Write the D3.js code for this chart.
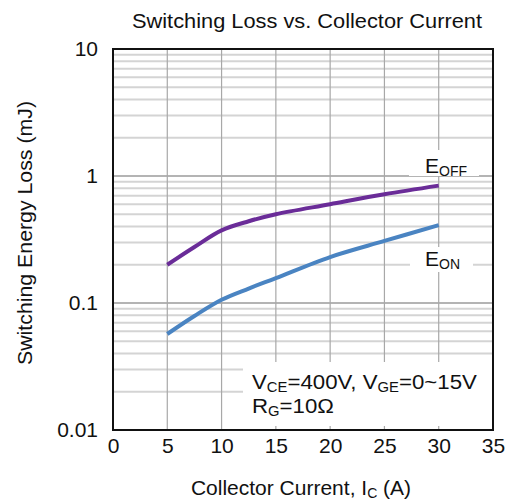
<!DOCTYPE html>
<html>
<head>
<meta charset="utf-8">
<script src="https://cdn.jsdelivr.net/npm/d3@7/dist/d3.min.js"></script>
<style>
  html, body { margin: 0; padding: 0; background: #fff; }
  svg { display: block; font-family: "Liberation Sans", Arial, Helvetica, sans-serif; }
</style>
</head>
<body>
<svg id="chart" width="516" height="504"></svg>
<script>
// Collector current samples (A)
const currents = [5, 7.5, 10, 12.5, 15, 20, 25, 30];
// Turn-off and turn-on switching energy (mJ)
const eOff = [0.20, 0.276, 0.373, 0.44, 0.50, 0.60, 0.718, 0.84];
const eOn  = [0.057, 0.079, 0.106, 0.13, 0.157, 0.23, 0.308, 0.41];
// Axis ticks
const xTicks = [0, 5, 10, 15, 20, 25, 30, 35];
const yTicks = [0.01, 0.1, 1, 10];
const yTickLabels = ["0.01", "0.1", "1", "10"];

const svg = d3.select("#chart");
const plotL = 113, plotR = 493, plotT = 49, plotB = 430;

const x = d3.scaleLinear().domain([0, 35]).range([plotL, plotR]);
const y = d3.scaleLog().domain([0.01, 10]).range([plotB, plotT]);

// Horizontal grid: minor values 2..9 per decade, decades darker
const minor = [];
[0.01, 0.1, 1].forEach(d => { for (let k = 2; k <= 9; k++) minor.push(d * k); });
svg.append("g").selectAll("line").data(minor).join("line")
  .attr("x1", plotL).attr("x2", plotR)
  .attr("y1", d => y(d)).attr("y2", d => y(d))
  .attr("stroke", "#d4d4d4").attr("stroke-width", 2);
svg.append("g").selectAll("line").data([0.1, 1]).join("line")
  .attr("x1", plotL).attr("x2", plotR)
  .attr("y1", d => y(d)).attr("y2", d => y(d))
  .attr("stroke", "#b4b4b4").attr("stroke-width", 2);

// Vertical grid
svg.append("g").selectAll("line").data(xTicks.slice(1, -1)).join("line")
  .attr("x1", d => x(d)).attr("x2", d => x(d))
  .attr("y1", plotT).attr("y2", plotB)
  .attr("stroke", "#a8a8a8").attr("stroke-width", 1.2);

// Condition note panel (white, covers the grid) leaving tick stubs at the bottom
svg.append("rect").attr("x", 243).attr("y", 362).attr("width", plotR - 243 - 1).attr("height", plotB - 362 - 4)
  .attr("fill", "#fff");

const noteScale = (x0) => `translate(${x0},0) scale(1.06,1) translate(${-x0},0)`;
const note = svg.append("text").attr("x", 252).attr("y", 389).attr("font-size", 21).attr("fill", "#111")
  .attr("transform", noteScale(252));
note.append("tspan").text("V");
note.append("tspan").attr("font-size", 14).attr("dy", 3).text("CE");
note.append("tspan").attr("dy", -3).text("=400V, V");
note.append("tspan").attr("font-size", 14).attr("dy", 3).text("GE");
note.append("tspan").attr("dy", -3).text("=0~15V");
const note2 = svg.append("text").attr("x", 252).attr("y", 413).attr("font-size", 21).attr("fill", "#111")
  .attr("transform", noteScale(252));
note2.append("tspan").text("R");
note2.append("tspan").attr("font-size", 14).attr("dy", 3).text("G");
note2.append("tspan").attr("dy", -3).text("=10\u03A9");

// Curves
const line = d3.line().x(d => x(d[0])).y(d => y(d[1])).curve(d3.curveCatmullRom.alpha(0.5));
svg.append("path").datum(currents.map((c, i) => [c, eOff[i]]))
  .attr("d", line).attr("fill", "none").attr("stroke", "#6a2c98").attr("stroke-width", 4);
svg.append("path").datum(currents.map((c, i) => [c, eOn[i]]))
  .attr("d", line).attr("fill", "none").attr("stroke", "#4a84c2").attr("stroke-width", 4);

// Series labels with white backing
svg.append("rect").attr("x", 409).attr("y", 150).attr("width", 70).attr("height", 26).attr("fill", "#fff");
const lOff = svg.append("text").attr("x", 425).attr("y", 173).attr("font-size", 21).attr("fill", "#111");
lOff.append("tspan").text("E");
lOff.append("tspan").attr("font-size", 14).attr("dy", 3).text("OFF");

svg.append("rect").attr("x", 410).attr("y", 247).attr("width", 63).attr("height", 25).attr("fill", "#fff");
const lOn = svg.append("text").attr("x", 425).attr("y", 266).attr("font-size", 21).attr("fill", "#111");
lOn.append("tspan").text("E");
lOn.append("tspan").attr("font-size", 14).attr("dy", 3).text("ON");

// Frame
svg.append("rect").attr("x", plotL).attr("y", plotT).attr("width", plotR - plotL).attr("height", plotB - plotT)
  .attr("fill", "none").attr("stroke", "#111").attr("stroke-width", 2);

// Axes (labels only; grid and frame drawn above)
const xAxis = svg.append("g").attr("transform", `translate(0,${plotB})`)
  .call(d3.axisBottom(x).tickValues(xTicks).tickSize(0).tickPadding(0).tickFormat(d3.format("d")));
xAxis.select(".domain").remove();
xAxis.selectAll("text").attr("font-size", 21).attr("fill", "#111").attr("dy", null).attr("y", 23)
  .attr("font-family", "Liberation Sans, Arial, sans-serif");

const yAxis = svg.append("g").attr("transform", `translate(${plotL},0)`)
  .call(d3.axisLeft(y).tickValues(yTicks).tickSize(0).tickPadding(15)
    .tickFormat((d, i) => yTickLabels[i]));
yAxis.select(".domain").remove();
yAxis.selectAll("text").attr("font-size", 21).attr("fill", "#111")
  .attr("font-family", "Liberation Sans, Arial, sans-serif");

// Titles
svg.append("text").attr("x", 307).attr("y", 28).attr("text-anchor", "middle")
  .attr("font-size", 21).attr("fill", "#111")
  .attr("textLength", 350).attr("lengthAdjust", "spacingAndGlyphs")
  .text("Switching Loss vs. Collector Current");

const xt = svg.append("text").attr("x", 301).attr("y", 495).attr("text-anchor", "middle")
  .attr("font-size", 21).attr("fill", "#111");
xt.append("tspan").text("Collector Current, I");
xt.append("tspan").attr("font-size", 14).attr("dy", 3).text("C");
xt.append("tspan").attr("dy", -3).text(" (A)");

svg.append("text").attr("transform", "translate(32,233) rotate(-90)")
  .attr("text-anchor", "middle").attr("font-size", 21).attr("fill", "#111")
  .attr("textLength", 264).attr("lengthAdjust", "spacingAndGlyphs")
  .text("Switching Energy Loss (mJ)");
</script>
</body>
</html>
